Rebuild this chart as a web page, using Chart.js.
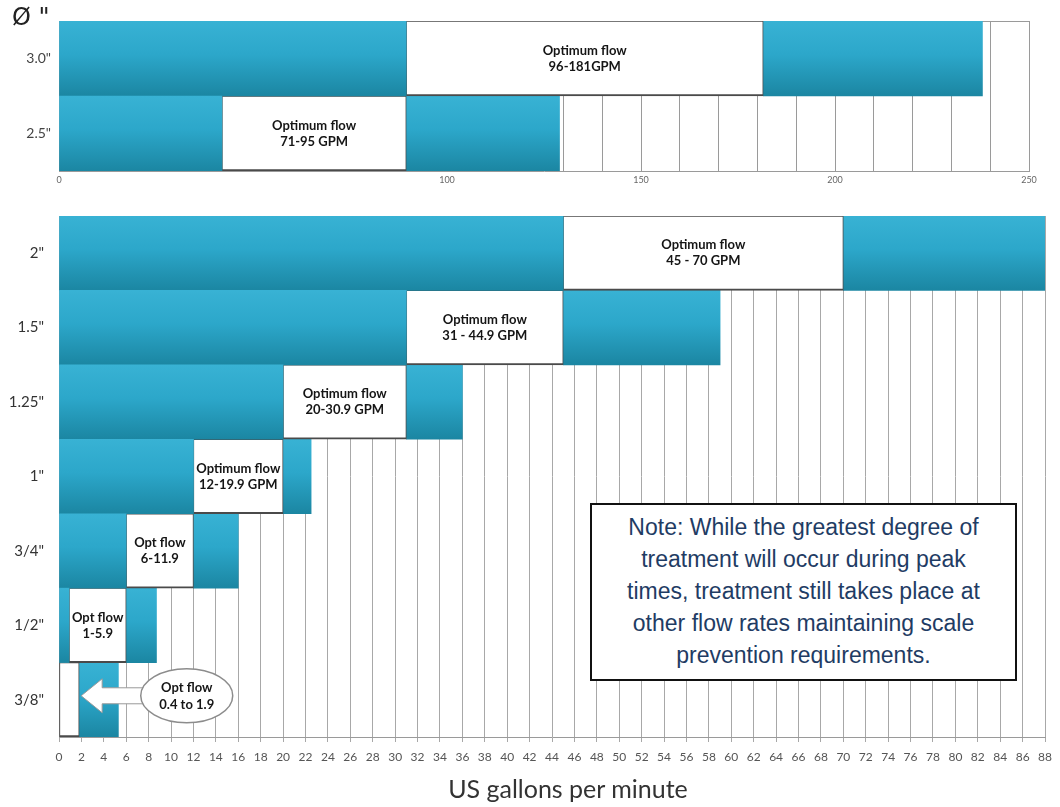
<!DOCTYPE html>
<html>
<head>
<meta charset="utf-8">
<script src="https://cdn.jsdelivr.net/npm/chart.js@4.4.1/dist/chart.umd.min.js"></script>
<style>
    body { margin: 0; background: #fff; width: 1060px; height: 807px; position: relative; overflow: hidden; }
    #wrap-top { position: absolute; left: 0; top: 0; width: 1060px; height: 200px; }
    #wrap-bottom { position: absolute; left: 0; top: 200px; width: 1060px; height: 607px; }
    #diametro { position: absolute; left: 12px; top: 3px; font: 24px "DejaVu Sans", sans-serif; color: #222; }
    #titulo-x { position: absolute; left: 0; top: 773px; width: 1136px; text-align: center; font: 25px Lato, sans-serif; color: #333; }
    #nota {
        position: absolute; left: 590px; top: 503px; width: 427px; height: 178px; box-sizing: border-box;
        border: 2px solid #111; background: #fff; padding-top: 6px; text-align: center;
        font: 23px "Liberation Sans", Arial, sans-serif; line-height: 32px; color: #1f3c64;
    }
</style>
</head>
<body>
<div id="wrap-top"><canvas id="grafico-superior"></canvas></div>
<div id="wrap-bottom"><canvas id="grafico-inferior"></canvas></div>
<div id="diametro">Ø "</div>
<div id="titulo-x">US gallons per minute</div>
<div id="nota">Note: While the greatest degree of<br>treatment will occur during peak<br>times, treatment still takes place at<br>other flow rates maintaining scale<br>prevention requirements.</div>

<script>
// Datos del grafico superior (tuberias grandes)
const sizesTop = ['3.0"', '2.5"'];
const belowTop = [[0, 89.5], [0, 42]];
const optimumTop = [[89.5, 181.5], [42, 89.5]];
const aboveTop = [[181.5, 238], [89.5, 129]];
const labelsTop = [['Optimum flow', '96-181GPM'], ['Optimum flow', '71-95 GPM']];
const topTickLabels = [0, 100, 150, 200, 250];

// Datos del grafico inferior
const sizesBottom = ['2"', '1.5"', '1.25"', '1"', '3/4"', '1/2"', '3/8"'];
const belowBottom = [[0, 45], [0, 31], [0, 20], [0, 12], [0, 6], [0, 0.9], null];
const optimumBottom = [[45, 70], [31, 45], [20, 31], [12, 20], [6, 12], [0.9, 6], [0, 1.8]];
const aboveBottom = [[70, 88], [45, 59], [31, 36], [20, 22.5], [12, 16], [6, 8.7], [1.8, 5.3]];
const labelsBottom = [
    ['Optimum flow', '45 - 70 GPM'],
    ['Optimum flow', '31 - 44.9 GPM'],
    ['Optimum flow', '20-30.9 GPM'],
    ['Optimum flow', '12-19.9 GPM'],
    ['Opt flow', '6-11.9'],
    ['Opt flow', '1-5.9'],
    null
];
const calloutLabel = ['Opt flow', '0.4 to 1.9'];

function tealGradient(context) {
    const chart = context.chart;
    const yScale = chart.scales.y;
    if (!chart.chartArea || !yScale || context.dataIndex === undefined) return '#2aa3c6';
    const center = yScale.getPixelForValue(context.dataIndex);
    const half = yScale.height / yScale.getLabels().length / 2;
    if (!isFinite(center) || !isFinite(half)) return '#2aa3c6';
    const g = chart.ctx.createLinearGradient(0, center - half, 0, center + half);
    g.addColorStop(0, '#38b2d4');
    g.addColorStop(0.45, '#2ca7ca');
    g.addColorStop(1, '#1b86a2');
    return g;
}

function crearDatasets(below, optimum, above) {
    const comun = { grouped: false, categoryPercentage: 1, barPercentage: 1, borderSkipped: false };
    return [
        Object.assign({ data: below, backgroundColor: tealGradient, borderWidth: 0 }, comun),
        Object.assign({ data: optimum, backgroundColor: '#ffffff', borderColor: '#4a4a4a',
            borderWidth: { top: 1, right: 1, bottom: 2, left: 1 } }, comun),
        Object.assign({ data: above, backgroundColor: tealGradient, borderWidth: 0 }, comun)
    ];
}

// Texto dentro de las cajas blancas
const textoCajas = {
    id: 'textoCajas',
    afterDatasetsDraw(chart, args, opts) {
        const ctx = chart.ctx;
        const meta = chart.getDatasetMeta(1);
        ctx.save();
        ctx.fillStyle = '#151515';
        ctx.font = 'bold 13px Lato, sans-serif';
        ctx.textAlign = 'center';
        ctx.textBaseline = 'middle';
        meta.data.forEach((bar, i) => {
            const lines = opts.labels[i];
            if (!lines) return;
            const p = bar.getProps(['x', 'y', 'base'], true);
            const cx = (p.x + p.base) / 2;
            ctx.fillText(lines[0], cx, p.y - 8);
            ctx.fillText(lines[1], cx, p.y + 8);
        });
        ctx.restore();
    }
};

// Linea superior del recuadro
const bordeSuperior = {
    id: 'bordeSuperior',
    beforeDatasetsDraw(chart) {
        const a = chart.chartArea;
        const ctx = chart.ctx;
        ctx.save();
        ctx.strokeStyle = '#9a9a9a';
        ctx.lineWidth = 1;
        ctx.beginPath();
        ctx.moveTo(a.left, a.top + 0.5);
        ctx.lineTo(a.right, a.top + 0.5);
        ctx.stroke();
        ctx.restore();
    }
};

// Flecha y globo para 3/8"
const globo = {
    id: 'globo',
    afterDatasetsDraw(chart) {
        const ctx = chart.ctx;
        const x = chart.scales.x;
        const y = chart.scales.y;
        const row = sizesBottom.length - 1;
        const cy = y.getPixelForValue(row) - 4;
        const tip = x.getPixelForValue(optimumBottom[row][1]) + 2;
        const ex = x.getPixelForValue(11.4);
        const rx = 46, ry = 27;

        ctx.save();
        ctx.fillStyle = '#ffffff';
        ctx.strokeStyle = '#9a9a9a';
        ctx.lineWidth = 1;
        ctx.beginPath();
        ctx.moveTo(tip, cy);
        ctx.lineTo(tip + 21, cy - 17);
        ctx.lineTo(tip + 21, cy - 8);
        ctx.lineTo(ex - rx + 6, cy - 8);
        ctx.lineTo(ex - rx + 6, cy + 8);
        ctx.lineTo(tip + 21, cy + 8);
        ctx.lineTo(tip + 21, cy + 17);
        ctx.closePath();
        ctx.fill();
        ctx.stroke();

        ctx.lineWidth = 1.5;
        ctx.strokeStyle = '#8c8c8c';
        ctx.beginPath();
        ctx.ellipse(ex, cy, rx, ry, 0, 0, Math.PI * 2);
        ctx.fill();
        ctx.stroke();

        ctx.fillStyle = '#151515';
        ctx.font = 'bold 13px Lato, sans-serif';
        ctx.textAlign = 'center';
        ctx.textBaseline = 'middle';
        ctx.fillText(calloutLabel[0], ex, cy - 8);
        ctx.fillText(calloutLabel[1], ex, cy + 9);
        ctx.restore();
    }
};

const opcionesBase = {
    indexAxis: 'y',
    responsive: true,
    maintainAspectRatio: false,
    animation: false,
    events: []
};

document.addEventListener('DOMContentLoaded', () => {
    new Chart(document.getElementById('grafico-superior'), {
        type: 'bar',
        data: { labels: sizesTop, datasets: crearDatasets(belowTop, optimumTop, aboveTop) },
        plugins: [bordeSuperior, textoCajas],
        options: Object.assign({}, opcionesBase, {
            layout: { padding: { top: 21, right: 31, left: 0, bottom: 0 } },
            plugins: { legend: { display: false }, tooltip: { enabled: false }, textoCajas: { labels: labelsTop } },
            scales: {
                x: {
                    type: 'linear', min: 0, max: 250,
                    afterFit: (s) => { s.height = 29; },
                    ticks: {
                        stepSize: 10, autoSkip: false, maxRotation: 0, padding: 4, color: '#666',
                        font: { family: 'Lato', size: 9 },
                        callback: (v) => topTickLabels.includes(v) ? String(v) : ''
                    },
                    grid: { color: '#9a9a9a', drawTicks: false },
                    border: { color: '#9a9a9a' }
                },
                y: {
                    afterFit: (s) => { s.width = 59; },
                    grid: { display: false },
                    border: { display: true, color: '#9a9a9a' },
                    ticks: { padding: 0, color: '#444', font: { family: 'Lato', size: 14 } }
                }
            }
        })
    });

    new Chart(document.getElementById('grafico-inferior'), {
        type: 'bar',
        data: { labels: sizesBottom, datasets: crearDatasets(belowBottom, optimumBottom, aboveBottom) },
        plugins: [textoCajas, globo],
        options: Object.assign({}, opcionesBase, {
            layout: { padding: { top: 2, right: 9, left: 0, bottom: 0 } },
            plugins: { legend: { display: false }, tooltip: { enabled: false }, textoCajas: { labels: labelsBottom } },
            scales: {
                x: {
                    type: 'linear', min: 0, max: 88,
                    afterFit: (s) => { s.height = 70; },
                    ticks: {
                        stepSize: 2, autoSkip: false, maxRotation: 0, padding: 8, color: '#555',
                        font: { family: 'Lato', size: 12 }
                    },
                    grid: { color: '#a8a8a8', tickLength: 5 },
                    border: { color: '#9a9a9a' }
                },
                y: {
                    afterFit: (s) => { s.width = 59; },
                    grid: { display: false },
                    border: { display: true, color: '#9a9a9a' },
                    ticks: { padding: 7, color: '#333', font: { family: 'Lato', size: 15 } }
                }
            }
        })
    });
});
</script>
</body>
</html>
